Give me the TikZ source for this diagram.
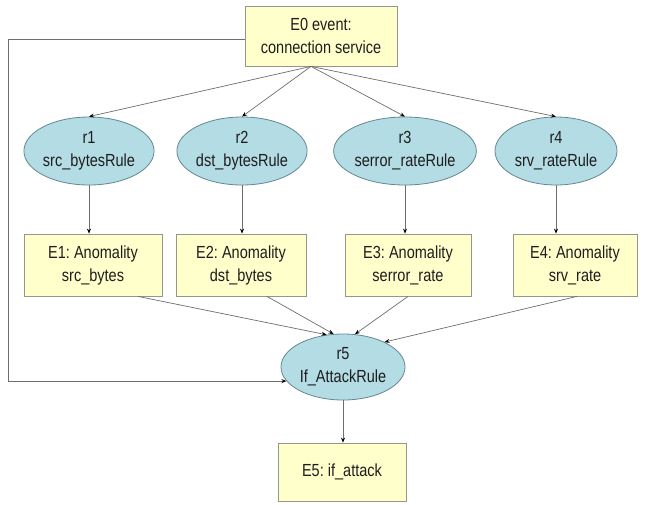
\documentclass[tikz,border=0pt]{standalone}
\usepackage{fontspec}
\setmainfont{Liberation Sans}[FakeStretch=0.83]
\usetikzlibrary{shapes.geometric,arrows.meta,calc}
\definecolor{boxfill}{RGB}{255,255,204}
\definecolor{boxline}{RGB}{150,150,140}
\definecolor{ellfill}{RGB}{180,220,228}
\definecolor{ellline}{RGB}{100,135,145}
\definecolor{conn}{RGB}{110,110,110}
\definecolor{txt}{RGB}{30,30,30}
\frenchspacing
\begin{document}
\begin{tikzpicture}[x=1pt,y=-1pt,
  every node/.style={text=txt,font=\fontsize{17.5}{23}\selectfont,align=center,inner sep=0pt},
  evbox/.style={draw=boxline,fill=boxfill,line width=0.8pt,rectangle,minimum width=#1},
  evbox/.default=130pt,
  rule/.style={draw=ellline,fill=ellfill,line width=0.8pt,ellipse,minimum height=68pt,minimum width=#1},
  rule/.default=124pt,
  arr/.style={draw=conn,line width=0.7pt,-{Stealth[length=5pt,width=4pt,color=black]}}
]
\useasboundingbox (0,0) rectangle (651,504);
\fill[white] (0,0) rectangle (651,504);

\node[evbox=152pt,minimum height=60pt] (E0) at (321,36) {E0 event:\\connection service};

\node[rule=130pt] (r1) at (89,151) {r1\\src\_bytesRule};
\node[rule=116pt] (r2) at (242,151) {r2\\dst\_bytesRule};
\node[rule=126pt] (r3) at (405,151) {r3\\serror\_rateRule};
\node[rule=122pt] (r4) at (556,151) {r4\\srv\_rateRule};

\node[evbox=138pt,minimum height=62pt] (E1) at (93,265) {E1: Anomality\\src\_bytes};
\node[evbox=130pt,minimum height=62pt] (E2) at (241,265) {E2: Anomality\\dst\_bytes};
\node[evbox=126pt,minimum height=62pt] (E3) at (408,265) {E3: Anomality\\serror\_rate};
\node[evbox=124pt,minimum height=62pt] (E4) at (575,265) {E4: Anomality\\srv\_rate};

\node[rule=124pt,minimum height=66pt] (r5) at (343,367) {r5\\If\_AttackRule};
\node[evbox=128pt,minimum height=58pt] (E5) at (342,472) {E5: if\_attack};

\coordinate (e0s) at ($(E0.south)+(-10,0)$);
\foreach \r in {r1,r2,r3,r4} \draw[arr] (e0s) -- (\r.north);

\foreach \r/\e in {r1/E1,r2/E2,r3/E3,r4/E4} \draw[arr] (\r.south) -- (\r.south |- \e.north);

\draw[arr] ($(E1.south)+(45,0)$) -- (r5.117);
\draw[arr] ($(E2.south)+(26,0)$) -- (r5.106);
\draw[arr] ($(E3.south)+(0,0)$) -- (r5.70);
\draw[arr] ($(E4.south)+(2,0)$) -- (r5.31);

\draw[arr] (r5.south) -- (r5.south |- E5.north);

\coordinate (lc) at (8,0);
\draw[arr] ($(E0.west)+(0,3)$) -| (lc |- r5.194) -- (r5.194);
\end{tikzpicture}
\end{document}
